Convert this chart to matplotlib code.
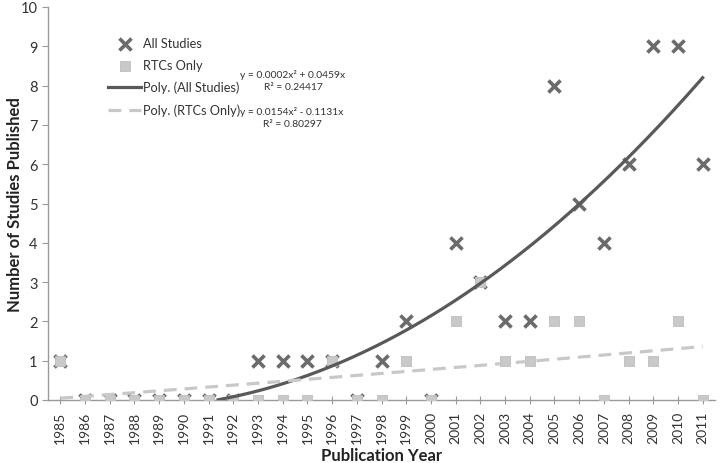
import numpy as np
import matplotlib
matplotlib.use("Agg")
import matplotlib.pyplot as plt

plt.rcParams['font.family'] = ['Lato', 'DejaVu Sans']

years = list(range(1985, 2012))
all_studies = [1, 0, 0, 0, 0, 0, 0, 0, 1, 1, 1, 1, 0, 1, 2, 0, 4, 3, 2, 2, 8, 5, 4, 6, 9, 9, 6]
rtcs_only = [1, 0, 0, 0, 0, 0, 0, 0, 0, 0, 0, 1, 0, 0, 1, 0, 2, 3, 1, 1, 2, 2, 0, 1, 1, 2, 0]
eq_all = "y = 0.0002x² + 0.0459x\nR² = 0.24417"
eq_rtc = "y = 0.0154x² - 0.1131x\nR² = 0.80297"

x = np.arange(1, len(years) + 1)

def fit0(yv):
    A = np.column_stack([x**2, x]).astype(float)
    c, *_ = np.linalg.lstsq(A, np.array(yv, float), rcond=None)
    return c

xs = np.linspace(1, len(years), 400)
ca = fit0(all_studies)
cr = fit0(rtcs_only)
ya = ca[0]*xs**2 + ca[1]*xs
yr = cr[0]*xs**2 + cr[1]*xs
ya_m = np.where(ya >= 0, ya, np.nan)
yr_m = np.where(yr >= 0, yr, np.nan)

fig = plt.figure(figsize=(7.2, 4.64), dpi=100)
ax = fig.add_axes([48/720, 1-401/464, (715-48)/720, (401-8)/464])

xi = x - 1
ax.scatter(xi, rtcs_only, marker='s', s=55, color='#c9c9c9', edgecolors='#bdbdbd',
           linewidths=0.6, zorder=3, label='RTCs Only')
ax.scatter(xi, all_studies, marker='x', s=75, color='#6b6b6b', linewidths=2.6,
           zorder=2, label='All Studies')
ax.plot(xs - 1, ya_m, color='#595959', lw=2.3, zorder=4, label='Poly. (All Studies)')
ax.plot(xs - 1, yr_m, color='#c8c8c8', lw=2.3, ls=(0, (4, 2.5)), zorder=4,
        label='Poly. (RTCs Only)')

ax.set_xlim(-0.5, len(years) - 0.5)
ax.set_ylim(0, 10)
ax.set_yticks(range(0, 11))
ax.set_xticks(xi)
ax.set_xticklabels([str(y) for y in years], rotation=90, fontsize=10, color='#333333')
ax.tick_params(axis='y', labelsize=10.5, colors='#333333', length=4, color='#9a9a9a')
ax.tick_params(axis='x', length=6, direction='inout', color='#9a9a9a', pad=5)
for s in ['top', 'right']:
    ax.spines[s].set_visible(False)
for s in ['left', 'bottom']:
    ax.spines[s].set_color('#9a9a9a')
    ax.spines[s].set_linewidth(1.0)
ax.spines['bottom'].set_zorder(1)

ax.set_xlabel('Publication Year', fontsize=12, fontweight='bold', color='#222222')
ax.set_ylabel('Number of Studies Published', fontsize=12, fontweight='bold', color='#222222')
ax.xaxis.set_label_coords(0.5, (401-456)/393)
ax.yaxis.set_label_coords((15-48)/667, 0.5)
ax.xaxis.label.set_va('center')
ax.yaxis.label.set_va('center')

handles, labels = ax.get_legend_handles_labels()
order = [1, 0, 2, 3]
leg = fig.legend([handles[i] for i in order], [labels[i] for i in order],
                 loc='upper left', bbox_to_anchor=(108/720, 1-38/464), frameon=False,
                 fontsize=9.2, handlelength=2.6, handletextpad=0.15, labelspacing=0.78,
                 borderaxespad=0, borderpad=0)
for t in leg.get_texts():
    t.set_color('#333333')

fig.text(293/720, 1-81/464, eq_all, fontsize=7.4, ha='center', va='center',
         color='#333333', linespacing=1.45)
fig.text(292/720, 1-118/464, eq_rtc, fontsize=7.4, ha='center', va='center',
         color='#333333', linespacing=1.45)

fig.savefig('out.png', dpi=100)
